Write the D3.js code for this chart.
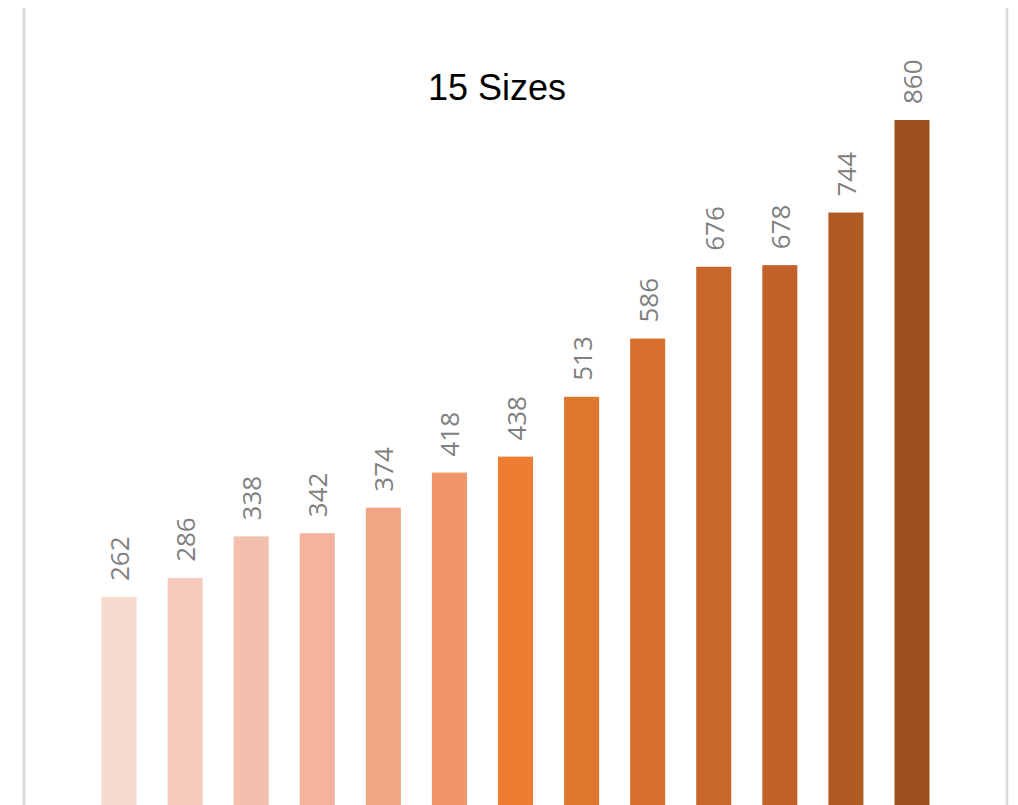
<!DOCTYPE html>
<html>
<head>
<meta charset="utf-8">
<script src="https://cdn.jsdelivr.net/npm/d3@7"></script>
<style>
  html, body { margin: 0; padding: 0; background: #fff; }
  svg { display: block; }
</style>
</head>
<body>
<div id="chart"></div>
<script>
// chart data
const title = '15 Sizes';
const sizes = ['S1', 'S2', 'S3', 'S4', 'S5', 'S6', 'S7', 'S8', 'S9', 'S10', 'S11', 'S12', 'S13'];
const values = [262, 286, 338, 342, 374, 418, 438, 513, 586, 676, 678, 744, 860];
const barColors = ['#f7d8cd', '#f6cbbd', '#f4c0ae', '#f3b39d', '#f2a585', '#f0956a', '#ed7d31',
  '#e0772f', '#d8712d', '#c8672a', '#bf6128', '#b05a23', '#9e501e'];

const width = 1018, height = 805;
const frame = { left: 24, right: 1007, top: 8 };

const svg = d3.select('#chart').append('svg')
  .attr('width', width)
  .attr('height', height);

// chart frame: only the two side edges show
[frame.left, frame.right].forEach(fx => {
  svg.append('line')
    .attr('x1', fx).attr('x2', fx)
    .attr('y1', frame.top).attr('y2', height)
    .attr('stroke', '#d9d9d9')
    .attr('stroke-width', 2.5);
});

const x = d3.scaleBand()
  .domain(sizes)
  .range([frame.left, frame.right])
  .paddingInner(0.47)
  .paddingOuter(1.173);

const y = d3.scaleLinear()
  .domain([0, 860])
  .range([806, 120]);

const data = sizes.map((s, i) => ({ size: s, value: values[i], color: barColors[i] }));

svg.append('g')
  .selectAll('rect')
  .data(data)
  .join('rect')
  .attr('x', d => x(d.size))
  .attr('y', d => y(d.value))
  .attr('width', x.bandwidth())
  .attr('height', d => y(0) - y(d.value))
  .attr('fill', d => d.color);

// value labels, rotated
svg.append('g')
  .selectAll('text')
  .data(data)
  .join('text')
  .attr('transform', d => `translate(${x(d.size) + x.bandwidth() / 2 + 10},${y(d.value) - 16}) rotate(-90)`)
  .attr('text-anchor', 'start')
  .attr('font-family', '"Open Sans", sans-serif')
  .attr('font-size', '26px')
  .attr('fill', '#808080')
  .text(d => d.value);

svg.append('text')
  .attr('x', 497)
  .attr('y', 100)
  .attr('text-anchor', 'middle')
  .attr('font-family', '"Liberation Sans", Arial, sans-serif')
  .attr('font-size', '36px')
  .attr('fill', '#000')
  .text(title);
</script>
</body>
</html>
